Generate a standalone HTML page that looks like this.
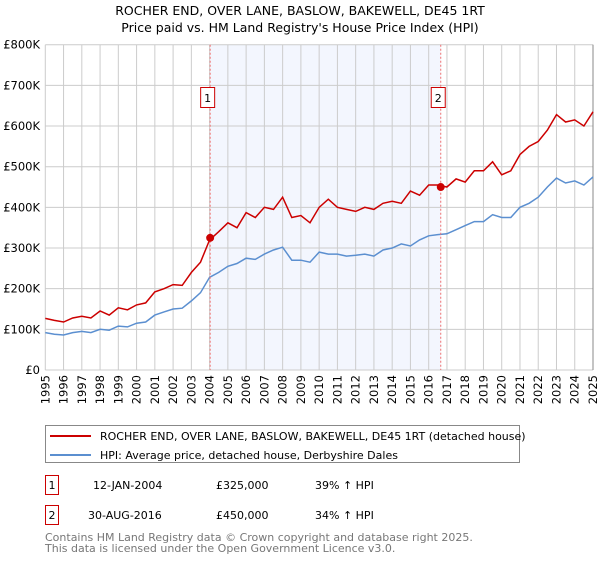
<!DOCTYPE html>
<html><head><meta charset="utf-8"><style>
body{margin:0;background:#fff;font-family:"Liberation Sans","DejaVu Sans",sans-serif;}
svg text{font-family:"DejaVu Sans","Liberation Sans",sans-serif;}
</style></head><body>
<svg id="c" width="600" height="560" xmlns="http://www.w3.org/2000/svg">
<text x="300" y="15" text-anchor="middle" font-size="12.5" fill="#000">ROCHER END, OVER LANE, BASLOW, BAKEWELL, DE45 1RT</text>
<text x="300" y="32" text-anchor="middle" font-size="12.5" fill="#000">Price paid vs. HM Land Registry's House Price Index (HPI)</text>
<g id="plot"></g>
<g>
<rect x="45.5" y="425.5" width="474" height="37" fill="#fff" stroke="#888"/>
<line x1="50" y1="436" x2="91" y2="436" stroke="#cc0000" stroke-width="2"/>
<text x="100" y="440" font-size="11">ROCHER END, OVER LANE, BASLOW, BAKEWELL, DE45 1RT (detached house)</text>
<line x1="50" y1="455" x2="91" y2="455" stroke="#5b8fd0" stroke-width="2"/>
<text x="100" y="459" font-size="11">HPI: Average price, detached house, Derbyshire Dales</text>
</g>
<g font-size="11">
<rect x="45.5" y="475.5" width="13" height="19" fill="#fff" stroke="#cc0000"/>
<text x="52" y="489" text-anchor="middle">1</text>
<text x="93" y="489">12-JAN-2004</text><text x="216" y="489">£325,000</text><text x="315" y="489">39% ↑ HPI</text>
<rect x="45.5" y="505.5" width="13" height="19" fill="#fff" stroke="#cc0000"/>
<text x="52" y="519" text-anchor="middle">2</text>
<text x="88" y="519">30-AUG-2016</text><text x="216" y="519">£450,000</text><text x="315" y="519">34% ↑ HPI</text>
</g>
<text x="45" y="541" font-size="11" fill="#777">Contains HM Land Registry data © Crown copyright and database right 2025.</text>
<text x="45" y="552" font-size="11" fill="#777">This data is licensed under the Open Government Licence v3.0.</text>
</svg>
<script>
const years=[1995,1995.5,1996,1996.5,1997,1997.5,1998,1998.5,1999,1999.5,2000,2000.5,2001,2001.5,2002,2002.5,2003,2003.5,2004,2004.5,2005,2005.5,2006,2006.5,2007,2007.5,2008,2008.5,2009,2009.5,2010,2010.5,2011,2011.5,2012,2012.5,2013,2013.5,2014,2014.5,2015,2015.5,2016,2016.5,2017,2017.5,2018,2018.5,2019,2019.5,2020,2020.5,2021,2021.5,2022,2022.5,2023,2023.5,2024,2024.5,2025];
const hpiValues=[92,88,86,92,95,92,100,98,108,106,115,118,135,143,150,152,170,190,228,240,255,262,275,272,285,295,302,270,270,265,290,285,285,280,282,285,280,295,300,310,305,320,330,333,335,345,355,365,365,382,375,375,400,410,425,450,472,460,465,455,475];
const propValues=[127,122,118,128,132,128,145,135,153,148,160,165,192,200,210,208,240,265,320,340,362,350,387,375,400,395,425,375,380,362,400,420,400,395,390,400,395,410,415,410,440,430,455,455,450,470,462,490,490,512,480,490,530,550,562,590,628,610,615,600,635];
const yTicks=[0,100,200,300,400,500,600,700,800];
const yTickLabels=["£0","£100K","£200K","£300K","£400K","£500K","£600K","£700K","£800K"];
const xTicks=[1995,1996,1997,1998,1999,2000,2001,2002,2003,2004,2005,2006,2007,2008,2009,2010,2011,2012,2013,2014,2015,2016,2017,2018,2019,2020,2021,2022,2023,2024,2025];
const saleDates=[2004.03,2016.66];
const salePrices=[325,450];
const saleLabels=["1","2"];
const X0=45.3,X1=593,Y0=370,Y1=44.7;
const xs=v=>X0+(v-1995)/30*(X1-X0);
const ys=v=>Y0-v/800*(Y0-Y1);
const NS="http://www.w3.org/2000/svg";
const g=document.getElementById('plot');
function mk(t,a){const e=document.createElementNS(NS,t);for(const k in a)e.setAttribute(k,a[k]);g.appendChild(e);return e;}
const sh=mk('rect',{x:xs(saleDates[0]),y:Y1,width:xs(saleDates[1])-xs(saleDates[0]),height:Y0-Y1,fill:'#f3f6fe'});


xTicks.forEach(t=>{const l=mk('line',{x1:xs(t),x2:xs(t),y1:Y1,y2:Y0,stroke:'#ccc','stroke-width':1});


const tx=mk('text',{x:0,y:0,'font-size':11.5,'text-anchor':'end',transform:`translate(${xs(t)+4},${Y0+5}) rotate(-90)`});tx.textContent=t;

});
yTicks.forEach((t,i)=>{const l=mk('line',{x1:X0,x2:X1,y1:ys(t),y2:ys(t),stroke:'#ccc','stroke-width':1});


const tx=mk('text',{x:40,y:ys(t)+4,'font-size':11.5,'text-anchor':'end'});tx.textContent=yTickLabels[i];

});
const rb=mk('line',{x1:X1,x2:X1,y1:Y1,y2:Y0,stroke:'#888','stroke-width':1});


function path(vals){return vals.map((v,i)=>(i?'L':'M')+xs(years[i]).toFixed(1)+','+ys(v).toFixed(1)).join('');}
const hp=mk('path',{d:path(hpiValues),fill:'none',stroke:'#5b8fd0','stroke-width':1.5});


const pp=mk('path',{d:path(propValues),fill:'none',stroke:'#cc0000','stroke-width':1.5});


saleDates.forEach((d,i)=>{const l=mk('line',{x1:xs(d),x2:xs(d),y1:Y1,y2:Y0,stroke:'#f07070','stroke-width':1,'stroke-dasharray':'2,2'});


const c=mk('circle',{cx:xs(d),cy:ys(salePrices[i]),r:4,fill:'#cc0000'});


const b=mk('rect',{x:xs(d)-9.5,y:87.5,width:14,height:20,fill:'#fff',stroke:'#cc0000'});


const t=mk('text',{x:xs(d)-2.5,y:102,'font-size':11,'text-anchor':'middle'});t.textContent=saleLabels[i];

});
</script>
</body></html>
